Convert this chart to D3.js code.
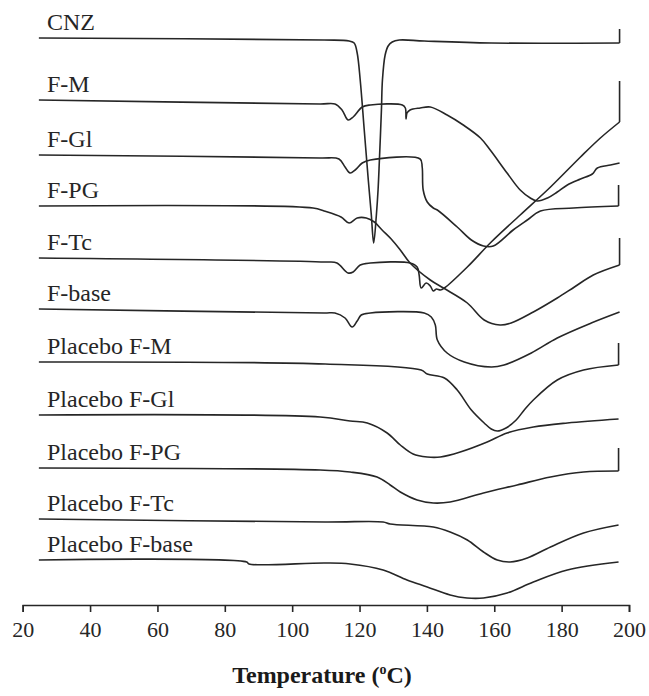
<!DOCTYPE html>
<html>
<head>
<meta charset="utf-8">
<script src="https://cdn.jsdelivr.net/npm/d3@7"></script>
<style>
body{margin:0;background:#fff;}
.curve{fill:none;stroke:#262626;stroke-width:1.6;}
.label{font-family:'Liberation Serif','Times New Roman',Tinos,'DejaVu Serif',serif;font-size:24px;fill:#262626;}
.axis path,.axis line{stroke:#262626;stroke-width:1.6;}
.axis text{font-family:'Liberation Serif','Times New Roman',Tinos,'DejaVu Serif',serif;font-size:22px;fill:#262626;}
.title{font-family:'Liberation Serif','Times New Roman',Tinos,'DejaVu Serif',serif;font-size:24px;font-weight:bold;fill:#1a1a1a;}
</style>
</head>
<body>
<script>
var WIDTH = 649, HEIGHT = 696;

// tick labels of the temperature axis
var xTicks = [20,40,60,80,100,120,140,160,180,200];

// sample names, top to bottom
var names = ['CNZ','F-M','F-Gl','F-PG','F-Tc','F-base',
    'Placebo F-M','Placebo F-Gl','Placebo F-PG','Placebo F-Tc','Placebo F-base'];

// thermograms: [temperature (C), heat flow (arb. units, offset stacked)]
var cnz = [[24.8,567],[109.5,565],[116.9,564],[118.4,562],[119.3,552],[120.2,525],[121.4,475],
    [122.6,425],[123.5,390],[124.2,362],[125.0,390],[125.5,415],[125.9,445],[126.5,495],
    [126.8,525],[127.6,550],[128.5,559],[129.7,563],[131.8,565],[139.2,564],[159.1,562],[197.2,562]];
var fM = [[24.8,505],[108.3,501],[112.7,501],[114.8,495],[116.6,485],[118.1,488],[120.8,498],
    [123.2,500],[132.7,500],[133.6,497],[133.8,486],[134.1,492],[135.0,495],[138.0,497],
    [141.0,498],[146.0,490],[150.8,480],[155.9,467],[158.8,455],[163.8,432],[167.7,415],
    [170.7,407],[172.8,404],[175.8,407],[178.7,413],[181.7,420],[185.6,426],[189.1,431],
    [190.6,437],[194.5,440],[197.2,442]];
var fGl = [[24.8,450],[108.3,447],[113.9,446],[115.7,438],[117.2,432],[118.7,435],[120.8,442],
    [123.2,445],[138.0,446],[138.6,438],[138.9,415],[140.1,403],[141.9,397],[143.1,395],
    [149.0,378],[153.2,365],[156.8,359],[159.7,359],[165.6,375],[169.8,385],[173.7,394],
    [183.5,397],[196.9,399]];
var fPG = [[24.8,399],[106.2,397],[109.5,394],[114.5,388],[116.9,382],[119.3,387],[122.0,387],
    [124.4,383],[126.7,375],[129.4,366],[132.1,355],[135.0,342],[141.0,325],[144.9,317],
    [152.0,302],[157.0,285],[161.7,280],[165.0,282],[171.6,293],[178.7,307],[183.8,318],
    [189.4,330],[197.2,340]];
var fTc = [[24.8,347],[109.8,343],[113.3,342],[116.6,332],[118.1,333],[120.2,340],[123.2,342],
    [135.0,342],[137.1,338],[137.7,330],[138.3,317],[139.8,322],[141.0,319],[141.9,314],
    [142.8,316],[144.0,315],[145.2,317],[152.0,338],[159.1,363],[167.7,390],[176.7,418],
    [185.6,448],[191.5,467],[197.2,483]];
var fBase = [[24.8,296],[109.5,292],[112.7,292],[115.7,287],[117.8,278],[119.3,284],[120.5,290],
    [123.2,292],[139.2,292],[141.3,288],[142.5,280],[143.1,265],[146.0,252],[151.1,243],
    [159.1,238],[162.9,240],[171.0,252],[178.7,267],[188.8,282],[197.2,293]];
var pM = [[24.8,243],[109.8,241],[138.3,235],[140.1,231],[145.2,227],[149.0,215],[153.2,195],
    [157.0,182],[159.1,176],[160.9,174],[163.5,177],[166.5,185],[168.9,195],[171.6,205],
    [178.7,225],[186.5,235],[196.9,240]];
var pGl = [[24.8,190],[108.3,188],[117.2,184],[122.3,182],[128.2,172],[132.1,160],[135.9,151],
    [140.1,148],[144.0,148],[149.9,153],[157.9,163],[163.8,172],[171.6,178],[181.7,182],[196.9,186]];
var pPG = [[24.8,137],[108.3,135],[117.2,133],[125.2,128],[129.1,120],[132.1,113],[137.1,105],
    [141.9,102],[146.9,103],[156.8,112],[166.8,120],[176.7,128],[186.5,133],[196.9,134]];
var pTc = [[24.8,86],[109.8,83],[127.0,83],[129.1,81],[141.9,78],[146.9,73],[152.0,65],
    [156.8,53],[160.9,45],[164.7,43],[169.8,47],[176.7,58],[186.5,72],[196.9,80]];
var pBase = [[24.8,45],[86.5,43],[87.2,41],[109.8,42],[117.2,41],[127.0,35],[134.1,25],
    [140.1,18],[146.9,10],[151.9,7],[156.8,7],[163.8,12],[171.6,23],[181.7,35],[196.9,43]];

var curves = [cnz,fM,fGl,fPG,fTc,fBase,pM,pGl,pPG,pTc,pBase];

// instrument step at the end of some runs (arb. units, 0 = none)
var endSteps = [14,0,21,27,41,0,22,0,23,0,0];

var xScale = d3.scaleLinear().domain([20,200]).range([22.7,629]);
var yScale = d3.scaleLinear().domain([0,600]).range([605,5]);

var svg = d3.select('body').append('svg')
    .attr('width',WIDTH)
    .attr('height',HEIGHT);

var line = d3.line()
    .x(function(d){return xScale(d[0])})
    .y(function(d){return yScale(d[1])})
    .curve(d3.curveCatmullRom.alpha(0.5));

var stepLine = d3.line()
    .x(function(d){return xScale(d[0])})
    .y(function(d){return yScale(d[1])});

var g = svg.append('g');

curves.forEach(function(c,i){
    g.append('path').classed('curve',true).attr('d',line(c));

    var last = c[c.length-1];
    if(endSteps[i] > 0){
        g.append('path').classed('curve',true)
            .attr('d',stepLine([last,[last[0],last[1]+endSteps[i]]]));
    }

    g.append('text').classed('label',true)
        .attr('x',47)
        .attr('y',yScale(c[0][1]) - 8)
        .text(names[i]);
});

var axis = svg.append('g').classed('axis',true)
    .attr('transform','translate(0,'+yScale(0)+')')
    .call(d3.axisBottom(xScale).tickValues(xTicks).tickSize(7).tickSizeOuter(7).tickPadding(9));
axis.attr('font-family',null);

var title = svg.append('text').classed('title',true)
    .attr('x',322)
    .attr('y',683)
    .attr('text-anchor','middle');
title.append('tspan').text('Temperature  (');
title.append('tspan').attr('font-size','14px').attr('dy',-9).text('o');
title.append('tspan').attr('dy',9).text('C)');
</script>
</body>
</html>
